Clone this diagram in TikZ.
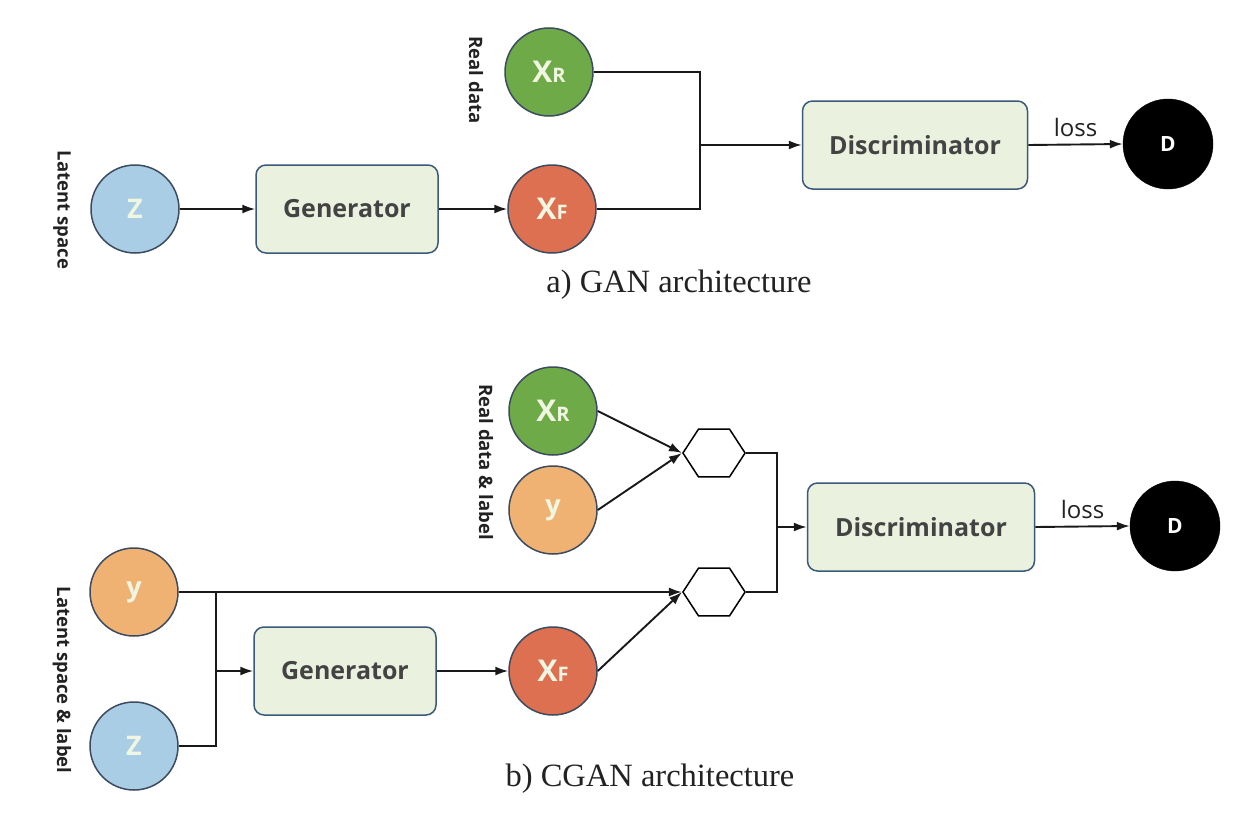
\documentclass[tikz,border=0pt]{standalone}
\usepackage{fontspec}
\setmainfont{Liberation Serif}
\newfontfamily\osf{Open Sans}
\usetikzlibrary{arrows.meta,shapes.geometric}
\definecolor{zblue}{HTML}{A8CDE4}
\definecolor{rgreen}{HTML}{6FAA48}
\definecolor{fred}{HTML}{DE7052}
\definecolor{yorange}{HTML}{EFB272}
\definecolor{cborder}{HTML}{3D4B5F}
\definecolor{bfill}{HTML}{EAF1DE}
\definecolor{bborder}{HTML}{3B5978}
\definecolor{ctext}{HTML}{F0F6E2}
\definecolor{ltext}{HTML}{222222}
\tikzset{
  circ/.style={circle,draw=cborder,line width=1.5pt,minimum size=88pt,inner sep=0pt,
    font=\osf\bfseries\fontsize{27}{27}\selectfont,text=ctext},
  blk/.style={rectangle,rounded corners=10pt,draw=bborder,fill=bfill,line width=1.5pt,
    minimum width=182pt,minimum height=88pt,font=\osf\bfseries\fontsize{25}{25}\selectfont,text=ltext!85},
  hexa/.style={regular polygon,regular polygon sides=6,draw=black,fill=white,line width=1.5pt,
    minimum size=55pt,inner sep=0pt,xscale=1.13,transform shape},
  dnode/.style={circle,draw=black,fill=black,minimum size=90pt,inner sep=0pt,
    font=\osf\bfseries\fontsize{21}{21}\selectfont,text=white},
  side/.style={rotate=-90,font=\osf\bfseries\fontsize{18.5}{18.5}\selectfont,text=ltext},
  captext/.style={font=\fontsize{32.5}{32.5}\selectfont,text=ltext},
  conn/.style={line width=1.9pt,draw=black!90},
  arr/.style={conn,-{Latex[length=13pt,width=9pt]}},
  losslab/.style={font=\osf\fontsize{24}{24}\selectfont,text=ltext}
}
\newcommand{\xsub}[1]{{\fontsize{30}{30}\selectfont X}{\fontsize{20}{20}\selectfont #1}}
\begin{document}
\begin{tikzpicture}[x=1pt,y=-1pt]
\useasboundingbox (0,0) rectangle (1242,819);
\fill[white] (0,0) rectangle (1242,819);
% ---------- a) GAN ----------
\node[side] (ls1) at (62,210) {Latent space};
\node[side] (rd1) at (476,80) {Real data};
\node[circ,fill=zblue] (z1) at (135,209) {Z};
\node[blk] (g1) at (347,209) {Generator};
\node[circ,fill=rgreen] (xr1) at (549,72) {\xsub{R}};
\node[circ,fill=fred] (xf1) at (552,209) {\xsub{F}};
\coordinate (j1) at (700,145);
\node[blk,minimum width=225pt] (d1) at (915,145) {Discriminator};
\node[dnode] (o1) at (1168,144) {D};
\node[captext] (c1) at (679,285) {a) GAN architecture};
\draw[arr] (z1) -- (g1);
\draw[arr] (g1) -- (xf1);
\draw[conn] (xr1.east) -| (j1);
\draw[conn] (xf1.east) -| (j1);
\draw[arr] (j1) -- (d1.west);
\draw[arr] (d1.east) -- node[losslab,above=3pt] {loss} (o1.west);
% ---------- b) CGAN ----------
\node[side] (ls2) at (62,680) {Latent space \& label};
\node[side] (rd2) at (486,462) {Real data \& label};
\node[circ,fill=rgreen] (xr2) at (553,411) {\xsub{R}};
\node[circ,fill=yorange] (yr2) at (553,510) {y};
\node[circ,fill=yorange] (y2) at (134,592) {y};
\node[circ,fill=zblue] (z2) at (134,746) {Z};
\node[blk] (g2) at (345,671) {Generator};
\node[circ,fill=fred] (xf2) at (553,671) {\xsub{F}};
\node[hexa] (h1) at (714,453) {};
\node[hexa] (h2) at (714,592) {};
\coordinate (j2) at (777,527);
\coordinate (j3) at (216,671);
\coordinate (j3t) at (216,592);
\node[blk,minimum width=227pt] (d2) at (921,527) {Discriminator};
\node[dnode] (o2) at (1175,526) {D};
\node[captext] (c2) at (650,779) {b) CGAN architecture};
\draw[arr] (xr2.east) -- (h1.west);
\draw[arr] (yr2.east) -- (h1.west);
\draw[arr] (y2.east) -- (h2.west);
\draw[arr] (xf2.east) -- (h2.west);
\draw[conn] (h1.east) -| (j2);
\draw[conn] (h2.east) -| (j2);
\draw[arr] (j2) -- (d2.west);
\draw[arr] (d2.east) -- node[losslab,above=3pt] {loss} (o2.west);
\draw[conn] (z2.east) -| (j3t);
\draw[arr] (j3) -- (g2.west);
\draw[arr] (g2) -- (xf2);
\end{tikzpicture}
\end{document}
